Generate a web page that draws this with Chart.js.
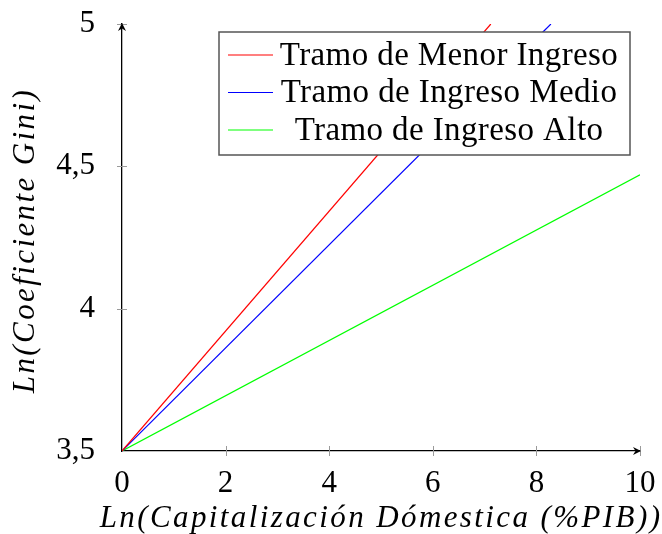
<!DOCTYPE html>
<html>
<head>
<meta charset="utf-8">
<script src="https://cdn.jsdelivr.net/npm/chart.js@4.4.1/dist/chart.umd.min.js"></script>
<style>
  html, body { margin: 0; padding: 0; background: #fff; }
  #wrap { width: 662px; height: 534px; position: relative; }
</style>
</head>
<body>
<div id="wrap"><canvas id="c"></canvas></div>
<script>
// Series: straight lines from the common origin, as (x, y) pairs
const seriesNames = ['Tramo de Menor Ingreso', 'Tramo de Ingreso Medio', 'Tramo de Ingreso Alto'];
const menorX = [0, 7.12];
const menorY = [3.5, 5.0];
const medioX = [0, 8.28];
const medioY = [3.5, 5.0];
const altoX = [0, 10];
const altoY = [3.5, 4.47];

// Axis ticks and their printed labels (decimal comma)
const xTicks = [0, 2, 4, 6, 8, 10];
const yTicks = [3.5, 4, 4.5, 5];
const yTickLabels = ['3,5', '4', '4,5', '5'];

const xTitle = 'Ln(Capitalización Dómestica (%PIB))';
const yTitle = 'Ln(Coeficiente Gini)';

const SERIF = "'Liberation Serif', 'DejaVu Serif', serif";

function pairs(xs, ys) { return xs.map((x, i) => ({ x: x, y: ys[i] })); }

// Tick marks crossing the axis lines, arrow heads and the spaced italic axis titles
const axisDecor = {
  id: 'axisDecor',
  afterDraw(chart, args, opts) {
    const ctx = chart.ctx;
    const xs = chart.scales.x, ys = chart.scales.y;
    const ax = xs.left, ay = ys.bottom;
    ctx.save();
    ctx.strokeStyle = '#9a9a9a';
    ctx.lineWidth = 1;
    xTicks.forEach(v => {
      if (v === 0) return;
      const px = Math.round(xs.getPixelForValue(v)) + 0.5;
      ctx.beginPath(); ctx.moveTo(px, ay - 5); ctx.lineTo(px, ay + 5); ctx.stroke();
    });
    yTicks.forEach(v => {
      if (v === yTicks[0]) return;
      const py = Math.round(ys.getPixelForValue(v)) + 0.5;
      ctx.beginPath(); ctx.moveTo(ax - 5, py); ctx.lineTo(ax + 5, py); ctx.stroke();
    });
    // arrow heads
    ctx.fillStyle = '#000';
    const topY = ys.top - 1;
    ctx.beginPath();
    ctx.moveTo(ax, topY);
    ctx.lineTo(ax - 4, topY + 8);
    ctx.lineTo(ax, topY + 5.5);
    ctx.lineTo(ax + 4, topY + 8);
    ctx.closePath(); ctx.fill();
    const rX = xs.right + 1;
    ctx.beginPath();
    ctx.moveTo(rX, ay);
    ctx.lineTo(rX - 8, ay - 4);
    ctx.lineTo(rX - 5.5, ay);
    ctx.lineTo(rX - 8, ay + 4);
    ctx.closePath(); ctx.fill();

    // axis titles
    ctx.fillStyle = '#000';
    ctx.font = opts.titleFont;
    ctx.letterSpacing = opts.titleSpacing + 'px';
    ctx.textAlign = 'center';
    ctx.textBaseline = 'middle';
    ctx.fillText(xTitle, (xs.left + xs.right) / 2, opts.xTitleY);
    ctx.translate(opts.yTitleX, (ys.top + ys.bottom) / 2 + 3);
    ctx.rotate(-Math.PI / 2);
    ctx.fillText(yTitle, 0, 0);
    ctx.restore();
  }
};

// Boxed legend inside the plot area, drawn over the lines
const boxLegend = {
  id: 'boxLegend',
  afterDatasetsDraw(chart, args, opts) {
    const ctx = chart.ctx;
    const b = opts.box;
    ctx.save();
    ctx.fillStyle = '#fff';
    ctx.fillRect(b.left, b.top, b.width, b.height);
    ctx.strokeStyle = '#555';
    ctx.lineWidth = 1.5;
    ctx.strokeRect(b.left, b.top, b.width, b.height);
    ctx.font = opts.font;
    ctx.letterSpacing = opts.spacing + 'px';
    ctx.textAlign = 'center';
    ctx.textBaseline = 'middle';
    chart.data.datasets.forEach((ds, i) => {
      const y = b.top + opts.firstRow + i * opts.rowGap;
      ctx.strokeStyle = ds.borderColor;
      ctx.lineWidth = 1.2;
      ctx.beginPath();
      ctx.moveTo(b.left + opts.sampleStart, y);
      ctx.lineTo(b.left + opts.sampleStart + opts.sampleLen, y);
      ctx.stroke();
      ctx.fillStyle = '#000';
      ctx.fillText(ds.label, b.left + opts.textCenter, y + 1);
    });
    ctx.restore();
  }
};

const lineStyle = { borderWidth: 1.2, pointRadius: 0, tension: 0, fill: false };

new Chart(document.getElementById('c'), {
  type: 'line',
  data: {
    datasets: [
      Object.assign({ label: seriesNames[0], data: pairs(menorX, menorY), borderColor: '#ff0000' }, lineStyle),
      Object.assign({ label: seriesNames[1], data: pairs(medioX, medioY), borderColor: '#0000ff' }, lineStyle),
      Object.assign({ label: seriesNames[2], data: pairs(altoX, altoY), borderColor: '#00ff00' }, lineStyle)
    ]
  },
  options: {
    responsive: true,
    maintainAspectRatio: false,
    animation: false,
    devicePixelRatio: 1,
    layout: { padding: { left: 0, top: 24, right: 22, bottom: 0 } },
    plugins: {
      legend: { display: false },
      tooltip: { enabled: false },
      boxLegend: {
        box: { left: 219, top: 32, width: 411, height: 123 },
        font: "33px " + SERIF,
        spacing: 0.4,
        firstRow: 23,
        rowGap: 37.5,
        sampleStart: 9,
        sampleLen: 45,
        textCenter: 230
      },
      axisDecor: {
        titleFont: "italic 31px " + SERIF,
        titleSpacing: 2.4,
        xTitleY: 519,
        yTitleX: 26
      }
    },
    scales: {
      x: {
        type: 'linear',
        min: 0, max: 10,
        afterFit: s => { s.height = 83; s.paddingLeft = 0; s.paddingRight = 0; },
        afterBuildTicks: s => { s.ticks = xTicks.map(v => ({ value: v })); },
        grid: { display: false },
        border: { display: true, color: '#000', width: 1.3 },
        ticks: {
          color: '#000',
          padding: 6,
          maxRotation: 0,
          font: { family: SERIF, size: 31 }
        },
        title: { display: false }
      },
      y: {
        type: 'linear',
        min: 3.5, max: 5,
        afterFit: s => { s.width = 122; s.paddingTop = 0; s.paddingBottom = 0; },
        afterBuildTicks: s => { s.ticks = yTicks.map(v => ({ value: v })); },
        grid: { display: false },
        border: { display: true, color: '#000', width: 1.3 },
        ticks: {
          color: '#000',
          padding: 19,
          font: { family: SERIF, size: 31 },
          callback: (v) => { const i = yTicks.indexOf(v); return i >= 0 ? yTickLabels[i] : ''; }
        },
        title: { display: false }
      }
    }
  },
  plugins: [boxLegend, axisDecor]
});
</script>
</body>
</html>
